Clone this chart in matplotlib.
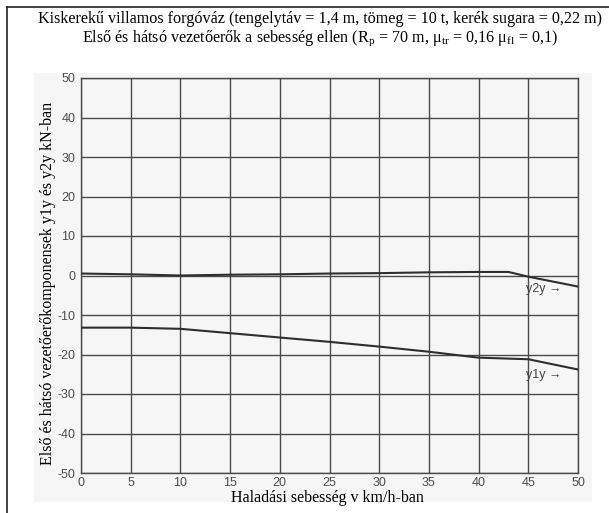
"""
Kiskerekű villamos forgóváz: első és hátsó vezetőerők a sebesség függvényében.
Scanned-style line chart, saved as out.png.
"""

import matplotlib
matplotlib.use("Agg")
import matplotlib.pyplot as plt
from matplotlib.patches import Rectangle
from matplotlib.lines import Line2D

# ---------------------------------------------------------------
# Data
# ---------------------------------------------------------------
speed_y1 = [0, 5, 10, 15, 20, 25, 30, 35, 40, 45, 50]
y1y = [-13.2, -13.2, -13.5, -14.6, -15.7, -16.8, -18.0, -19.3, -20.8, -21.2, -23.8]

speed_y2 = [0, 5, 10, 15, 20, 25, 30, 35, 40, 43, 45, 50]
y2y = [0.5, 0.3, 0.0, 0.2, 0.3, 0.5, 0.6, 0.8, 0.9, 0.9, -0.3, -2.8]

x_ticks = list(range(0, 51, 5))
y_ticks = list(range(-50, 51, 10))

title_1 = "Kiskerekű villamos forgóváz (tengelytáv = 1,4 m, tömeg = 10 t, kerék sugara = 0,22 m)"
title_2 = (r"Első és hátsó vezetőerők a sebesség ellen (R$_\mathrm{p}$ = 70 m, "
           r"μ$_\mathrm{tr}$ = 0,16 μ$_\mathrm{fl}$ = 0,1)")
x_label = "Haladási sebesség v km/h-ban"
y_label = "Első és hátsó vezetőerőkomponensek y1y és y2y kN-ban"

SERIF = "Liberation Serif"
SANS = "Liberation Sans"
GRID = "#4a4a4a"
INK = "#2e2e2e"
TICK = "#4d4d4d"

plt.rcParams["mathtext.fontset"] = "custom"
plt.rcParams["mathtext.rm"] = SERIF
plt.rcParams["axes.unicode_minus"] = False

W, H = 609, 513
fig = plt.figure(figsize=(W / 100, H / 100), dpi=100)


def fx(px):
    return px / W


def fy(py):
    return 1 - py / H


# outer frame (top and left edges only, as in the source)
fig.add_artist(Line2D([fx(7), 1.0], [fy(7)] * 2, color="#222222", lw=1.2,
                      transform=fig.transFigure))
fig.add_artist(Line2D([fx(7)] * 2, [0.0, fy(7)], color="#222222", lw=1.2,
                      transform=fig.transFigure))

# faint scanned paper area
fig.add_artist(Rectangle((fx(34), fy(502)), (592 - 34) / W, (502 - 73) / H,
                         transform=fig.transFigure, facecolor="#f6f6f6",
                         edgecolor="none", zorder=0))

fig.text(fx(320), fy(19), title_1, ha="center", va="center",
         family=SERIF, fontsize=11.6)
fig.text(fx(320), fy(38), title_2, ha="center", va="center",
         family=SERIF, fontsize=11.6)

ax = fig.add_axes([fx(81), fy(473), (578 - 81) / W, (473 - 78) / H])
ax.set_facecolor("none")

ax.plot(speed_y2, y2y, color=INK, lw=1.5, zorder=3)
ax.plot(speed_y1, y1y, color=INK, lw=1.5, zorder=3)

ax.text(44.8, -3.3, "y2y →", family=SANS, fontsize=9, color="#444444", va="center")
ax.text(44.8, -25.1, "y1y →", family=SANS, fontsize=9, color="#444444", va="center")

ax.set_xlim(0, 50)
ax.set_ylim(-50, 50)
ax.set_xticks(x_ticks)
ax.set_yticks(y_ticks)
ax.grid(True, color=GRID, lw=1.0)
ax.tick_params(length=0, labelsize=9, labelcolor=TICK)
ax.tick_params(axis="x", pad=3)
ax.tick_params(axis="y", pad=4)
for lbl in ax.get_xticklabels() + ax.get_yticklabels():
    lbl.set_family(SANS)
for spine in ax.spines.values():
    spine.set_color(GRID)
    spine.set_linewidth(1.0)

fig.text(fx(327), fy(498), x_label, ha="center", va="center",
         family=SERIF, fontsize=11.5)
fig.text(fx(48), fy(283), y_label, ha="center", va="center", rotation=90,
         family=SERIF, fontsize=11.5)

fig.savefig("out.png", dpi=100)
